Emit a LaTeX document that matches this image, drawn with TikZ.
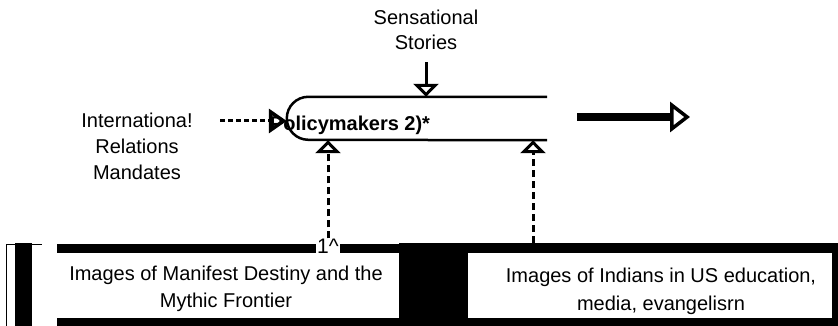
\documentclass[tikz,border=0pt]{standalone}
\usepackage{fontspec}
\setmainfont{Liberation Sans}
\usetikzlibrary{arrows.meta}
\begin{document}
\begin{tikzpicture}[x=1pt,y=-1pt,
  lbl/.style={font=\fontsize{20}{25}\selectfont, align=center, inner sep=0pt},
  band/.style={fill=black},
  dashup/.style={line width=3pt, dash pattern=on 7pt off 4pt,
    -{Triangle[open,length=13pt,width=25pt,line width=3pt]}},
  solidtip/.style={line width=3pt,
    -{Triangle[open,length=13pt,width=25pt,line width=3pt]}}]
\useasboundingbox (0,0) rectangle (838,326);

% top labels
\node[lbl] (stories) at (426,30) {Sensational\\Stories};
\node[lbl, font=\fontsize{20}{26}\selectfont] (intl) at (137,146) {Internationa!\\Relations\\Mandates};

% policymakers shape
\node[minimum width=260pt, minimum height=43pt, inner sep=0pt] (policy) at (417,118.5) {};
\draw[line width=2.5pt] (policy.north east) -- ([xshift=21.5pt]policy.north west)
  arc[start angle=90, end angle=270, radius=21.5pt] -- (policy.south east);
\node[lbl, font=\fontsize{20}{25}\selectfont\bfseries, anchor=base] (ptext) at (350,131) {Policymakers 2)*};

% bottom band structure
\draw[line width=1pt] (6,326) -- (6,244) -- (42,244);
\fill[band] (15,243) rectangle (32,326);
\fill[band] (57,244) rectangle (316,253);
\fill[band] (340,244) rectangle (399,253);
\fill[band] (399,243) rectangle (468,326);
\fill[band] (468,243) rectangle (838,253);
\fill[band] (832,243) rectangle (838,326);
\fill[band] (57,318) rectangle (838,326);
\node[font=\fontsize{21}{21}\selectfont, inner sep=0pt, anchor=base] (one) at (328,253) {1\textasciicircum};

% bottom box labels
\node[lbl, font=\fontsize{20}{27}\selectfont] (img1) at (226,288.5) {Images of Manifest Destiny and the\\Mythic Frontier};
\node[lbl, font=\fontsize{20}{28}\selectfont] (img2) at (661,291) {Images of Indians in US education,\\media, evangelisrn};

% connectors
\draw[solidtip] ([yshift=-12pt]stories.south) -- (stories.south |- policy.north);
\coordinate (intlend) at (220,121);
\draw[line width=3pt, dash pattern=on 5pt off 3pt,
  -{Triangle[open,length=18pt,width=24pt,line width=3.5pt]}] (intlend) -- (intlend -| policy.west);
\coordinate (outstart) at (577,117);
\coordinate (outend) at (690,117);
\draw[line width=8pt, -{Triangle[open,length=20pt,width=30pt,line width=3.5pt]}] (outstart) -- (outend);
\coordinate (rup) at (533,243);
\draw[dashup] (one.north) -- ++(0,-8) -- (one.north |- policy.south);
\draw[dashup] (rup) -- (rup |- policy.south);
\end{tikzpicture}
\end{document}
